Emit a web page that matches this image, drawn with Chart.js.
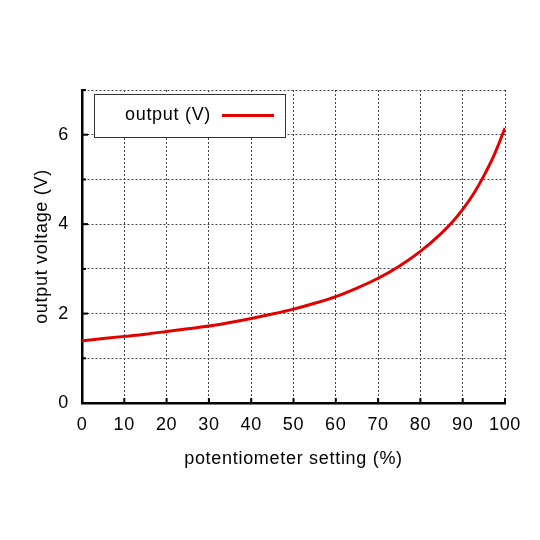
<!DOCTYPE html>
<html>
<head>
<meta charset="utf-8">
<script src="https://cdn.jsdelivr.net/npm/chart.js@4.4.0/dist/chart.umd.min.js"></script>
<style>
html,body{margin:0;padding:0;background:#fff;}
#wrap{width:540px;height:540px;}
</style>
</head>
<body>
<div id="wrap"><canvas id="c" width="540" height="540"></canvas></div>
<script>
const seriesLabel = 'output (V)';
const settingPct = [0,5,10,15,20,25,30,35,40,45,50,55,60,65,70,75,80,85,87.5,90,92.5,95,97.5,100];
const outputV = [1.39,1.44,1.49,1.54,1.60,1.66,1.72,1.80,1.89,1.99,2.10,2.23,2.38,2.57,2.79,3.06,3.39,3.80,4.04,4.33,4.67,5.08,5.56,6.15];
const yLabelled = [0,2,4,6];
const xTitle = 'potentiometer setting (%)';
const yTitle = 'output voltage (V)';

const FONT = '"Liberation Sans", Arial, sans-serif';
const SPACING = '0.7px';

const spacing = {
  id:'spacing',
  beforeLayout(chart){ chart.ctx.letterSpacing = SPACING; },
  beforeDraw(chart){ chart.ctx.letterSpacing = SPACING; }
};

const innerTicks = {
  id:'innerTicks',
  afterDatasetsDraw(chart){
    const ctx = chart.ctx, xs = chart.scales.x, ys = chart.scales.y, a = chart.chartArea;
    ctx.save();
    ctx.strokeStyle = '#000'; ctx.lineWidth = 2;
    xs.ticks.forEach(t=>{
      const px = xs.getPixelForValue(t.value);
      ctx.beginPath(); ctx.moveTo(px, a.bottom); ctx.lineTo(px, a.bottom-5); ctx.stroke();
    });
    ys.ticks.forEach(t=>{
      const py = ys.getPixelForValue(t.value);
      const len = yLabelled.includes(t.value) ? 6 : 4;
      ctx.beginPath(); ctx.moveTo(a.left, py); ctx.lineTo(a.left+len, py); ctx.stroke();
    });
    ctx.restore();
  }
};

const boxLegend = {
  id:'boxLegend',
  afterDraw(chart){
    const ctx = chart.ctx, a = chart.chartArea;
    const ds = chart.data.datasets[0];
    const x0 = a.left + 12, y0 = a.top + 4, w = 191, h = 43;
    ctx.save();
    ctx.fillStyle = '#fff';
    ctx.fillRect(x0, y0, w, h);
    ctx.strokeStyle = '#333'; ctx.lineWidth = 1;
    ctx.strokeRect(x0+0.5, y0+0.5, w, h);
    ctx.fillStyle = '#000';
    ctx.font = '18px ' + FONT;
    ctx.letterSpacing = SPACING;
    ctx.textBaseline = 'middle'; ctx.textAlign = 'left';
    ctx.fillText(ds.label, x0 + 31, y0 + h/2);
    ctx.strokeStyle = ds.borderColor; ctx.lineWidth = 3;
    ctx.beginPath(); ctx.moveTo(x0+128, y0+h/2); ctx.lineTo(x0+180, y0+h/2); ctx.stroke();
    ctx.restore();
  }
};

new Chart(document.getElementById('c'), {
  type:'line',
  data:{
    datasets:[{
      label: seriesLabel,
      data: settingPct.map((x,i)=>({x, y: outputV[i]})),
      borderColor:'#e30000',
      borderWidth:3,
      pointRadius:0,
      cubicInterpolationMode:'monotone',
      fill:false
    }]
  },
  options:{
    responsive:false,
    animation:false,
    layout:{padding:{top:90,right:35,left:0,bottom:0}},
    plugins:{legend:{display:false}, tooltip:{enabled:false}},
    scales:{
      x:{
        type:'linear', min:0, max:100,
        afterFit(s){ s.height = 137; },
        border:{display:true,color:'#000',width:2.5,dash:[2,2]},
        grid:{color:'#444', lineWidth:1, drawTicks:false},
        ticks:{stepSize:10, padding:11, color:'#000', font:{family:FONT,size:18}, maxRotation:0},
        title:{display:true, text:xTitle, color:'#000', font:{family:FONT,size:18}, padding:{top:0,bottom:70}}
      },
      y:{
        min:0, max:7,
        afterFit(s){ s.width = 82; },
        border:{display:true,color:'#000',width:2.5,dash:[2,2]},
        grid:{color:'#444', lineWidth:1, drawTicks:false},
        ticks:{stepSize:1, padding:13, color:'#000', font:{family:FONT,size:18},
          callback:(v)=> yLabelled.includes(v) ? String(v) : ''},
        title:{display:true, text:yTitle, color:'#000', font:{family:FONT,size:18}, padding:{top:31,bottom:0}}
      }
    }
  },
  plugins:[spacing, innerTicks, boxLegend]
});
</script>
</body>
</html>
